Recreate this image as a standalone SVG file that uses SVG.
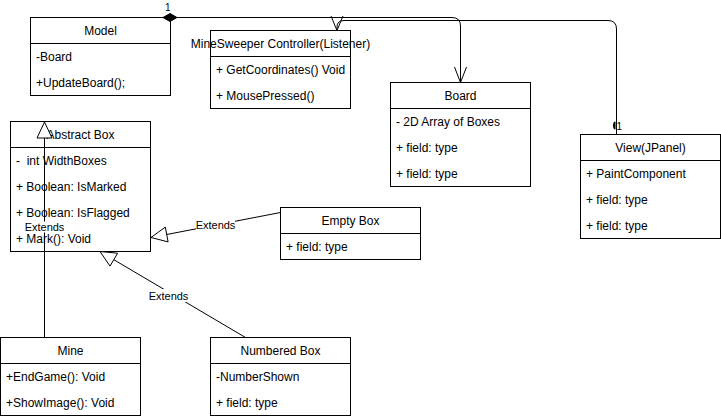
<svg xmlns="http://www.w3.org/2000/svg" width="721" height="418" viewBox="0 0 721 418">
<style>
  .box { fill: #ffffff; stroke: #000000; stroke-width: 1; }
  .div { stroke: #000000; stroke-width: 1; }
  .t { font-family: "Liberation Sans", Arial, sans-serif; font-size: 12px; fill: #000000; dominant-baseline: central; white-space: pre; }
  .c { text-anchor: middle; }
  .edge { fill: none; stroke: #000000; stroke-width: 1; }
  .tri { fill: #ffffff; stroke: #000000; stroke-width: 1; }
  .lbl { font-family: "Liberation Sans", Arial, sans-serif; font-size: 11px; fill: #000000; text-anchor: middle; dominant-baseline: central; }
  .lblbg { fill: #ffffff; stroke: none; }
  .mult { font-family: "Liberation Sans", Arial, sans-serif; font-size: 10px; fill: #000000; dominant-baseline: central; }
</style>
<rect width="721" height="418" fill="#ffffff"/>

<g id="model">
  <rect class="box" x="30.5" y="17.5" width="140" height="78"/>
  <line class="div" x1="30.5" y1="43.5" x2="170.5" y2="43.5"/>
  <text class="t c" x="100.5" y="30.5">Model</text>
  <text class="t" x="36" y="56.5">-Board</text>
  <text class="t" x="36" y="82.5">+UpdateBoard();</text>
</g>

<g id="controller">
  <rect class="box" x="210.5" y="30.5" width="140" height="78"/>
  <line class="div" x1="210.5" y1="56.5" x2="350.5" y2="56.5"/>
  <text class="t c" x="280.5" y="43.5">MineSweeper Controller(Listener)</text>
  <text class="t" x="216" y="69.5">+ GetCoordinates() Void</text>
  <text class="t" x="216" y="95.5">+ MousePressed()</text>
</g>

<g id="board">
  <rect class="box" x="390.5" y="82.5" width="140" height="104"/>
  <line class="div" x1="390.5" y1="108.5" x2="530.5" y2="108.5"/>
  <text class="t c" x="460.5" y="95.5">Board</text>
  <text class="t" x="396" y="121.5">- 2D Array of Boxes</text>
  <text class="t" x="396" y="147.5">+ field: type</text>
  <text class="t" x="396" y="173.5">+ field: type</text>
</g>

<g id="view">
  <rect class="box" x="580.5" y="134.5" width="140" height="104"/>
  <line class="div" x1="580.5" y1="160.5" x2="720.5" y2="160.5"/>
  <text class="t c" x="650.5" y="147.5">View(JPanel)</text>
  <text class="t" x="586" y="173.5">+ PaintComponent</text>
  <text class="t" x="586" y="199.5">+ field: type</text>
  <text class="t" x="586" y="225.5">+ field: type</text>
</g>

<g id="abstract-box">
  <rect class="box" x="10.5" y="121.5" width="140" height="130"/>
  <line class="div" x1="10.5" y1="147.5" x2="150.5" y2="147.5"/>
  <text class="t c" x="80.5" y="134.5">Abstract Box</text>
  <text class="t" x="16" y="160.5">-  int WidthBoxes</text>
  <text class="t" x="16" y="186.5">+ Boolean: IsMarked</text>
  <text class="t" x="16" y="212.5">+ Boolean: IsFlagged</text>
  <text class="t" x="16" y="239">+ Mark(): Void</text>
</g>

<g id="empty-box">
  <rect class="box" x="280.5" y="207.5" width="140" height="52"/>
  <line class="div" x1="280.5" y1="233.5" x2="420.5" y2="233.5"/>
  <text class="t c" x="350.5" y="220.5">Empty Box</text>
  <text class="t" x="286" y="246.5">+ field: type</text>
</g>

<g id="mine">
  <rect class="box" x="0.5" y="337.5" width="140" height="78"/>
  <line class="div" x1="0.5" y1="363.5" x2="140.5" y2="363.5"/>
  <text class="t c" x="70.5" y="350.5">Mine</text>
  <text class="t" x="6" y="376.5">+EndGame(): Void</text>
  <text class="t" x="6" y="402.5">+ShowImage(): Void</text>
</g>

<g id="numbered-box">
  <rect class="box" x="210.5" y="337.5" width="140" height="78"/>
  <line class="div" x1="210.5" y1="363.5" x2="350.5" y2="363.5"/>
  <text class="t c" x="280.5" y="350.5">Numbered Box</text>
  <text class="t" x="216" y="376.5">-NumberShown</text>
  <text class="t" x="216" y="402.5">+ field: type</text>
</g>

<g id="connectors">
  <!-- Model -> Board (composition) -->
  <path class="edge" d="M177,17.5 H452 Q460.5,17.5 460.5,26 V82.5"/>
  <polygon points="163,17.5 170,13.5 177,17.5 170,21.5" fill="#000000" stroke="#000000" stroke-width="1"/>
  <polyline class="edge" points="454.5,67 460.5,82.5 466.5,67"/>
  <text class="mult" x="165" y="7">1</text>

  <!-- View -> Controller -->
  <path class="edge" d="M616.5,134.5 V29 Q616.5,20.5 608,20.5 H344 Q337,20.5 337,27 V30.5"/>
  <polyline class="edge" points="331,16 337,30.5 343,16"/>
  <path d="M615.5,121.5 A2.5,4 0 0 0 615.5,129.5 Z" fill="#000000"/>
  <text class="mult" x="616.5" y="126">1</text>

  <!-- Mine -> Abstract Box -->
  <line class="edge" x1="44.5" y1="337.5" x2="44.5" y2="138"/>
  <polygon class="tri" points="44.5,122 37,138 52,138"/>
  <rect class="lblbg" x="25" y="221.5" width="39" height="11"/>
  <text class="lbl" x="44.5" y="227">Extends</text>

  <!-- Empty Box -> Abstract Box -->
  <line class="edge" x1="280.5" y1="212.5" x2="166.7" y2="234.5"/>
  <polygon class="tri" points="151,237.5 165.3,227.1 168.1,241.9"/>
  <rect class="lblbg" x="196" y="219" width="39" height="12"/>
  <text class="lbl" x="215.5" y="225">Extends</text>

  <!-- Numbered Box -> Abstract Box -->
  <line class="edge" x1="245.5" y1="337.5" x2="113.8" y2="259.7"/>
  <polygon class="tri" points="100,251.5 117.6,253.2 110,266.1"/>
  <rect class="lblbg" x="149" y="289" width="39" height="13"/>
  <text class="lbl" x="168.5" y="295.5">Extends</text>
</g>
</svg>
